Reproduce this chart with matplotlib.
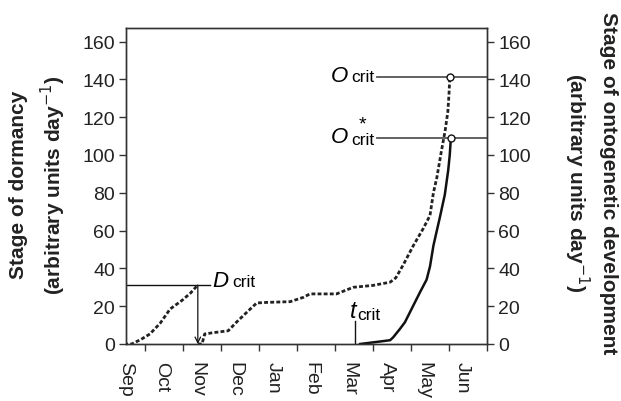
import matplotlib
matplotlib.use("Agg")
import matplotlib.pyplot as plt

plt.rcParams['font.family'] = ['Liberation Sans', 'DejaVu Sans']

# months counted from 1 Sep
months = ["Sep", "Oct", "Nov", "Dec", "Jan", "Feb", "Mar", "Apr", "May", "Jun"]
month_label_pos = [0.0, 0.95, 1.87, 2.87, 3.87, 4.87, 5.87, 6.87, 7.84, 8.84]
month_ticks = [0.5, 1.5, 2.5, 3.5, 4.5, 5.5, 6.5, 7.5, 8.5, 9.5]
y_ticks = [0, 20, 40, 60, 80, 100, 120, 140, 160]

# dormancy, first phase (until D_crit)
dorm1_x = [-0.05, 0.15, 0.4, 0.63, 0.9, 1.16, 1.47, 1.7, 1.89]
dorm1_y = [0, 0, 2.5, 5.3, 11, 18.5, 23, 27, 31.2]
# dormancy, second phase (after D_crit)
dorm2_x = [1.89, 2.0, 2.07, 2.3, 2.69, 2.91, 3.18, 3.44, 3.70, 4.32, 4.67, 4.84,
           5.54, 5.98, 6.5, 6.95, 7.10, 7.30, 7.56, 7.82, 8.0, 8.09, 8.18,
           8.30, 8.40, 8.47, 8.50, 8.52]
dorm2_y = [0, 0, 5.3, 6, 7, 11.6, 16.8, 21.7, 22, 22.4, 24.7, 26.5,
           26.5, 30, 31, 32.7, 35, 42, 52, 61, 68, 80, 88,
           102, 113, 123, 132, 141]
# ontogenetic development
onto_x = [6.16, 6.56, 6.95, 7.03, 7.21, 7.34, 7.56, 7.74, 7.91, 8.0, 8.09,
          8.18, 8.26, 8.39, 8.48, 8.52, 8.55]
onto_y = [0, 1.0, 2.0, 3.5, 8, 11.5, 20.3, 27.5, 34, 41, 52,
          60, 67, 79, 92, 100, 109]

d_crit = 31.2
o_crit = 141
o_crit_star = 109
t_crit = 6.03

fig = plt.figure(figsize=(6.21, 4.02), dpi=100)
ax = fig.add_axes([0.2029, 0.1418, 0.7842 - 0.2029, 0.927 - 0.1418])
ax2 = ax.twinx()

ax.plot(dorm1_x, dorm1_y, color='#222222', lw=2, ls=(0, (1.4, 0.8)))
ax.plot(dorm2_x, dorm2_y, color='#222222', lw=2, ls=(0, (1.4, 0.8)))
ax.plot(onto_x, onto_y, color='#111111', lw=1.8)

# critical levels
ax.plot([0, 2.2], [d_crit, d_crit], color='#111111', lw=1)
ax.plot([6.6, 9.5], [o_crit, o_crit], color='#555555', lw=1.3)
ax.plot([6.6, 9.5], [o_crit_star, o_crit_star], color='#555555', lw=1.3)
ax.plot([t_crit, t_crit], [0, 12.4], color='#111111', lw=1)
ax.annotate("", xy=(1.89, 0), xytext=(1.89, d_crit),
            arrowprops=dict(arrowstyle='->', color='#111111', lw=0.9,
                            shrinkA=0, shrinkB=0))
ax.plot([dorm2_x[-1]], [o_crit], 'o', ms=5, mfc='white', mec='#111111', mew=1)
ax.plot([onto_x[-1]], [o_crit_star], 'o', ms=5, mfc='white', mec='#111111', mew=1)

# labels of the critical levels
ax.text(2.28, 30.7, "D", fontsize=16, style='italic', va='baseline')
ax.text(2.80, 30.7, "crit", fontsize=12.5, va='baseline')
ax.text(5.40, 139.3, "O", fontsize=16, style='italic', va='baseline')
ax.text(5.93, 139.3, "crit", fontsize=12.5, va='baseline')
ax.text(5.40, 107, "O", fontsize=16, style='italic', va='baseline')
ax.text(5.93, 106, "crit", fontsize=12.5, va='baseline')
ax.text(6.13, 114, "*", fontsize=14, va='baseline')
ax.text(5.88, 14.3, "t", fontsize=17, style='italic', va='baseline')
ax.text(6.08, 13.3, "crit", fontsize=12.5, va='baseline')

for a in (ax, ax2):
    a.set_ylim(0, 167)
    a.set_yticks(y_ticks)
    a.tick_params(axis='y', labelsize=14, length=5, width=1, color='#333333',
                  labelcolor='#222222', direction='out', pad=3)
    for s in a.spines.values():
        s.set_color('#333333')
        s.set_linewidth(1)

ax.set_xlim(0, 9.5)
ax.set_xticks(month_ticks)
ax.set_xticklabels([])
ax.set_xticks(month_label_pos, minor=True)
ax.set_xticklabels(months, minor=True, rotation=-90, fontsize=14,
                   color='#222222')
ax.tick_params(axis='x', which='major', length=5, width=1, color='#333333',
               direction='out')
ax.tick_params(axis='x', which='minor', length=0, pad=12)

fig.text(0.062, 0.54, "Stage of dormancy\n(arbitrary units day$^{-1}$)",
         fontsize=15, fontweight='bold', rotation=90, ha='center',
         va='center', linespacing=1.45, color='#222222')
fig.text(0.95, 0.545,
         "Stage of ontogenetic development\n(arbitrary units day$^{-1}$)",
         fontsize=15, fontweight='bold', rotation=-90, ha='center',
         va='center', linespacing=1.35, color='#222222')

fig.savefig("out.png", dpi=100)
